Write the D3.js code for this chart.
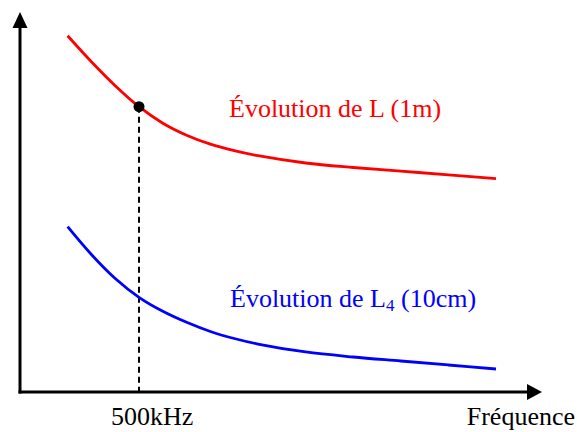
<!DOCTYPE html>
<html>
<head>
<meta charset="utf-8">
<script src="https://cdn.jsdelivr.net/npm/d3@7"></script>
<style>
  html, body { margin: 0; padding: 0; background: #fff; }
  svg { display: block; }
  text { font-family: "Liberation Serif", "Times New Roman", serif; }
</style>
</head>
<body>
<div id="chart"></div>
<script>
// ---- data (frequency in kHz, inductance in arbitrary units) ----
const freq  = [200, 300, 400, 500, 600, 700, 800, 900, 1000, 1200, 1400, 1600, 1800, 2000];
const L1m   = [93.76, 86.92, 80.61, 75.08, 70.74, 67.58, 65.21, 63.50, 62.18, 60.26, 59.08, 58.11, 57.16, 56.13];
const L10cm = [43.50, 36.18, 29.87, 24.92, 21.24, 18.34, 15.92, 14.08, 12.63, 10.53, 9.21, 8.16, 7.11, 6.05];
const markFreq = 500;
const markLabel = "500kHz";
const xTitle = "Fréquence";
const labelRed = ["Évolution de L", "", " (1m)"];
const labelBlue = ["Évolution de L", "4", " (10cm)"];

const W = 577, H = 432;
const svg = d3.select("#chart").append("svg").attr("width", W).attr("height", H);

const x = d3.scaleLinear().domain([0, 2000]).range([20, 496]);
const y = d3.scaleLinear().domain([0, 100]).range([392, 12]);

const x0 = x(0), y0 = y(0);
const xTip = 542, yTip = y(100);

// axes with arrow heads
svg.append("line").attr("x1", x0).attr("y1", y0 + 1.5).attr("x2", x0).attr("y2", yTip + 14)
  .attr("stroke", "#000").attr("stroke-width", 3);
svg.append("path").attr("d", `M${x0 - 7.5},${yTip + 16}L${x0 + 7.5},${yTip + 16}L${x0},${yTip}Z`).attr("fill", "#000");
svg.append("line").attr("x1", x0 - 1.5).attr("y1", y0).attr("x2", xTip - 14).attr("y2", y0)
  .attr("stroke", "#000").attr("stroke-width", 3);
svg.append("path").attr("d", `M${xTip - 15},${y0 - 8}L${xTip - 15},${y0 + 8}L${xTip},${y0}Z`).attr("fill", "#000");

// dashed marker line
const redAt = L1m[freq.indexOf(markFreq)];
svg.append("line").attr("x1", x(markFreq)).attr("x2", x(markFreq))
  .attr("y1", y(redAt)).attr("y2", y0)
  .attr("stroke", "#000").attr("stroke-width", 2).attr("stroke-dasharray", "6,4");

const line = d3.line().x(d => x(d[0])).y(d => y(d[1])).curve(d3.curveCatmullRom.alpha(0.5));

svg.append("path").datum(d3.zip(freq, L1m)).attr("d", line)
  .attr("fill", "none").attr("stroke", "#ff0000").attr("stroke-width", 2.8);
svg.append("path").datum(d3.zip(freq, L10cm)).attr("d", line)
  .attr("fill", "none").attr("stroke", "#0000ff").attr("stroke-width", 2.8);

svg.append("circle").attr("cx", x(markFreq)).attr("cy", y(redAt)).attr("r", 5.5).attr("fill", "#000");

// labels
function label(parts, px, py, color) {
  const t = svg.append("text").attr("x", px).attr("y", py).attr("fill", color).attr("font-size", 26);
  t.append("tspan").text(parts[0]);
  if (parts[1]) t.append("tspan").attr("font-size", 17).attr("dy", 4).text(parts[1]);
  t.append("tspan").attr("dy", parts[1] ? -4 : 0).text(parts[2]);
}
label(labelRed, 229, 117, "#ff0000");
label(labelBlue, 230, 307, "#0000ff");

svg.append("text").attr("x", x(markFreq) - 28).attr("y", 425).attr("font-size", 26).attr("fill", "#000").text(markLabel);
svg.append("text").attr("x", 575).attr("y", 425).attr("text-anchor", "end").attr("font-size", 26).attr("fill", "#000").text(xTitle);
</script>
</body>
</html>
